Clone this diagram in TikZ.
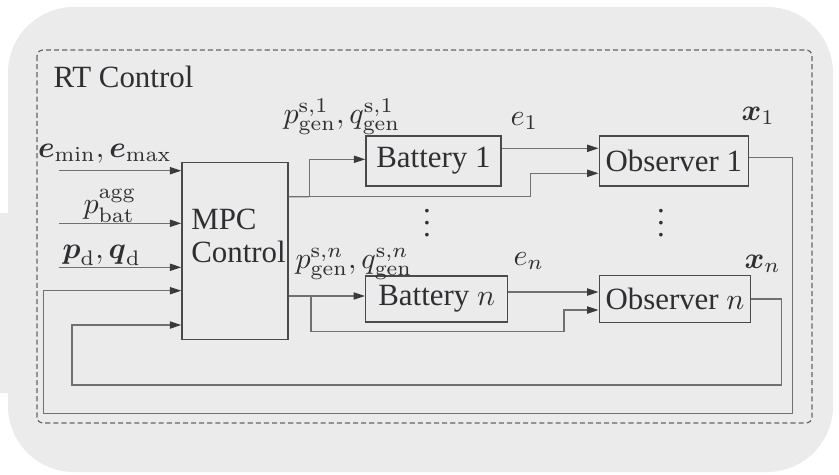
\documentclass[tikz,border=0pt]{standalone}
\usepackage{amsmath}
\usepackage[no-math]{fontspec}
\setmainfont{Liberation Serif}
\newfontfamily\tnr{Liberation Serif}
\usetikzlibrary{arrows.meta,calc}
\definecolor{bgc}{HTML}{EBEBEB}
\definecolor{boxc}{HTML}{4A4A4A}
\definecolor{linec}{HTML}{707070}
\definecolor{tipc}{HTML}{3A3A3A}
\definecolor{txt}{HTML}{2E2E33}
\definecolor{dashc}{HTML}{666666}
\newcommand\myfs{\tnr\fontsize{10.3pt}{11pt}\selectfont}
\begin{document}
\begin{tikzpicture}[x={(0.33333pt,0)},y={(0,-0.33333pt)},
  bx/.style={draw=boxc, line width=0.5pt, inner sep=0pt, font=\myfs, text=txt},
  lbl/.style={inner sep=0pt, font=\myfs, text=txt},
  conn/.style={draw=linec, line width=0.45pt},
  arr/.style={conn, -{Triangle[length=3.8pt,width=2.4pt,color=tipc]}}]
\useasboundingbox (0,0) rectangle (839,474);
% background
\fill[white] (0,0) rectangle (839,474);
\fill[bgc, rounded corners=22pt] (8,7) rectangle (833,472);
\fill[bgc] (0,213) rectangle (12,393);
% dashed frame
\draw[dashc, line width=0.4pt, dash pattern=on 1.7pt off 1pt, rounded corners=2pt] (37,50) rectangle (812,423);
\node[lbl, anchor=base west] (title) at (53,87) {RT Control};
% boxes
\node[bx, minimum width=35.33pt, minimum height=58.87pt] (mpc) at (235,251) {};
\node[lbl, anchor=west, align=left] (mpctext) at (190.7,236.3) {MPC\\Control};
\node[bx, minimum width=44.9pt, minimum height=16.77pt] (bat1) at (433.4,160.9) {Battery 1};
\node[bx, minimum width=47.33pt, minimum height=15.43pt] (batn) at (436.7,298.9) {Battery $n$};
\node[bx, minimum width=49.67pt, minimum height=16.77pt] (obs1) at (673.8,160.9) {Observer 1};
\node[bx, minimum width=50.47pt, minimum height=15.53pt] (obsn) at (675,299) {Observer $n$};
\node[lbl] (dotsb) at (427,214) {$\vdots$};
\node[lbl] (dotso) at (661,214) {$\vdots$};
% labels
\node[lbl, anchor=base west] (lemin) at (37.5,157) {$\boldsymbol{e}_{\min},\boldsymbol{e}_{\max}$};
\node[lbl, anchor=base] (lpagg) at (110,213) {$p^{\mathrm{agg}}_{\mathrm{bat}}$};
\node[lbl, anchor=base west] (lpd) at (62,258) {$\boldsymbol{p}_{\mathrm{d}},\boldsymbol{q}_{\mathrm{d}}$};
\node[lbl, anchor=base west] (lp1) at (283,123) {$p^{\mathrm{s},1}_{\mathrm{gen}},q^{\mathrm{s},1}_{\mathrm{gen}}$};
\node[lbl, anchor=base west] (le1) at (510,125) {$e_1$};
\node[lbl, anchor=base west] (lx1) at (741,120) {$\boldsymbol{x}_1$};
\node[lbl, anchor=base west] (lpn) at (295,268) {$p^{\mathrm{s},n}_{\mathrm{gen}},q^{\mathrm{s},n}_{\mathrm{gen}}$};
\node[lbl, anchor=base west] (len) at (513,265) {$e_n$};
\node[lbl, anchor=base west] (lxn) at (744,268) {$\boldsymbol{x}_n$};
% input arrows
\coordinate (in1) at (59,170.7);
\coordinate (in2) at (59,223.3);
\coordinate (in3) at (59,267.3);
\draw[arr] (in1) -- (in1 -| mpc.west);
\draw[arr] (in2) -- (in2 -| mpc.west);
\draw[arr] (in3) -- (in3 -| mpc.west);
% branch 1
\coordinate (s1) at (530.7,196.7);
\coordinate (b1) at (309.3,196.7);
\draw[conn] ([yshift=18.1pt]mpc.east) -- (b1);
\draw[arr] (b1) -- (s1) |- ([yshift=-4.13pt]obs1.west);
\draw[arr] (b1) |- ([yshift=0.53pt]bat1.west);
\draw[arr] ([yshift=4.2pt]bat1.east) -- ([yshift=4.2pt]obs1.west);
% branch n
\coordinate (bn) at (311,296);
\coordinate (cn) at (564,331.7);
\draw[arr] ([yshift=-15pt]mpc.east) -- ([yshift=-15pt]mpc.east -| batn.west);
\draw[arr] (bn) |- (cn) |- ([yshift=-3.67pt]obsn.west);
\draw[arr] ([yshift=2.3pt]batn.east) -- ([yshift=2.3pt]batn.east -| obsn.west);
% feedback
\coordinate (fa1) at (792.7,413.3);
\coordinate (fb1) at (43.3,413.3);
\draw[arr] ([yshift=1.2pt]obs1.east) -| (fa1) -- (fb1) |- ([yshift=-13.23pt]mpc.west);
\coordinate (fan) at (781.7,385);
\coordinate (fbn) at (72,385);
\draw[arr] (obsn.east) -| (fan) -- (fbn) |- ([yshift=-24.67pt]mpc.west);
\end{tikzpicture}
\end{document}
